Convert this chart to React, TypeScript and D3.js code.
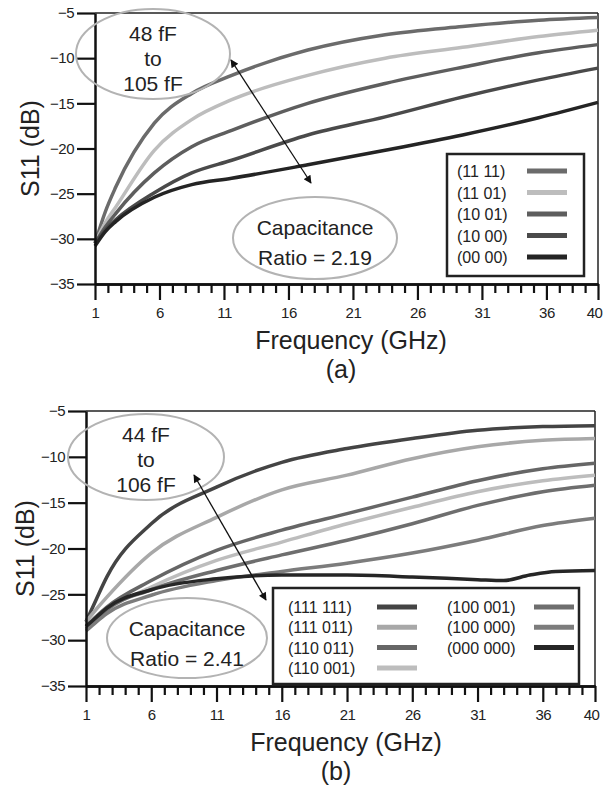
import React, { useEffect, useRef } from 'react'
import * as d3 from 'd3'

// panel (a) data
const freqA = [1, 1.8, 2.6, 5.6, 8.5, 11.6, 17.5, 23.5, 29.5, 35.4, 40]
const a1111 = [-30.5, -27.0, -24.3, -17.2, -13.9, -11.9, -9.1, -7.4, -6.5, -5.8, -5.5]
const a1101 = [-30.5, -28.2, -26.5, -20.2, -16.8, -14.6, -11.9, -10.0, -8.8, -7.6, -6.9]
const a1001 = [-30.5, -28.7, -27.2, -22.7, -19.8, -18.0, -15.0, -12.8, -11.0, -9.4, -8.5]
const a1000 = [-30.5, -29.0, -27.9, -24.9, -22.7, -21.3, -18.5, -16.5, -14.3, -12.4, -11.1]
const a0000 = [-30.8, -29.2, -28.1, -25.4, -24.0, -23.3, -21.8, -20.2, -18.5, -16.6, -14.9]
const labelsA = ['(11 11)', '(11 01)', '(10 01)', '(10 00)', '(00 00)']
const colorsA = ['#6b6b6b', '#bdbdbd', '#5e5e5e', '#4a4a4a', '#242424']

// panel (b) data
const freqB = [1, 1.8, 2.6, 6, 11, 16, 21, 26, 31, 36, 40]
const b111111 = [-28, -25.5, -23.1, -17.3, -13.3, -10.6, -9.1, -8.0, -7.1, -6.7, -6.6]
const b111011 = [-28, -26.6, -25.3, -20.5, -16.6, -13.6, -12.0, -10.2, -8.9, -8.2, -8.0]
const b110011 = [-28.5, -27.4, -26.4, -23.5, -20.2, -18.0, -16.2, -14.4, -12.6, -11.3, -10.7]
const b110001 = [-28.5, -27.6, -26.7, -24.2, -21.3, -19.3, -17.3, -15.5, -13.8, -12.6, -12.0]
const b100001 = [-28.8, -27.8, -26.7, -24.5, -22.4, -20.7, -19.1, -17.3, -15.3, -13.8, -13.1]
const b100000 = [-29, -28, -27.1, -25.1, -23.5, -22.5, -21.6, -20.5, -19.1, -17.5, -16.7]
const freqB0 = [1, 1.8, 2.6, 6, 11, 16, 21, 26, 31, 33, 35, 37, 40]
const b000000 = [-28.5, -27.5, -26.5, -24.5, -23.3, -22.9, -22.9, -23.1, -23.4, -23.5, -22.9, -22.5, -22.4]
const labelsB = ['(111 111)', '(111 011)', '(110 011)', '(110 001)', '(100 001)', '(100 000)', '(000 000)']
const colorsB = ['#444444', '#a8a8a8', '#666666', '#bdbdbd', '#6e6e6e', '#7c7c7c', '#262626']

const yTicks = [-5, -10, -15, -20, -25, -30, -35]
const xMajor = [1, 6, 11, 16, 21, 26, 31, 36, 40]
const xMinor = d3.range(2, 40).filter(v => !xMajor.includes(v))

const FONT = '"Liberation Sans", Arial, sans-serif'

function drawPanel(svg, cfg) {
  const { left, right, top, bottom, series, legend, notes, arrow, title } = cfg
  const x = d3.scaleLinear().domain([1, 40]).range([left, right])
  const y = d3.scaleLinear().domain([-35, -5]).range([bottom, top])
  const g = svg.append('g')

  // frame top / right
  g.append('line').attr('x1', left).attr('x2', right).attr('y1', top).attr('y2', top)
    .attr('stroke', '#222').attr('stroke-width', 1.5)
  g.append('line').attr('x1', right).attr('x2', right).attr('y1', top).attr('y2', bottom)
    .attr('stroke', '#222').attr('stroke-width', 1.5)

  // curves
  const line = d3.line().x(d => x(d[0])).y(d => y(d[1])).curve(d3.curveMonotoneX)
  series.forEach(s => {
    g.append('path')
      .datum(s.f.map((f, i) => [f, s.v[i]]))
      .attr('d', line)
      .attr('fill', 'none')
      .attr('stroke', s.color)
      .attr('stroke-width', 3.5)
  })

  // axes
  const yAxis = g.append('g').attr('transform', `translate(${left},0)`)
    .call(d3.axisLeft(y).tickValues(yTicks).tickSize(18).tickSizeOuter(0).tickPadding(3).tickFormat(d3.format('d')))
  const xAxis = g.append('g').attr('transform', `translate(0,${bottom})`)
    .call(d3.axisBottom(x).tickValues(xMajor).tickSize(16).tickSizeOuter(0).tickPadding(7))
  const xMin = g.append('g').attr('transform', `translate(0,${bottom})`)
    .call(d3.axisBottom(x).tickValues(xMinor).tickSize(9).tickSizeOuter(0).tickFormat(() => ''))
  ;[yAxis, xAxis, xMin].forEach(a => {
    a.selectAll('path').attr('stroke', '#111').attr('stroke-width', 2.5)
    a.selectAll('line').attr('stroke', '#111').attr('stroke-width', 2.2)
    a.selectAll('text').attr('font-family', FONT).attr('font-size', 15).attr('fill', '#222')
      .attr('letter-spacing', -0.5)
  })
  // last label sits at the right edge, as in the original
  xAxis.selectAll('text').filter(d => d === 40).attr('dx', -4)

  // axis titles
  g.append('text')
    .attr('transform', `translate(${cfg.yTitleX},${(top + bottom) / 2}) rotate(-90)`)
    .attr('text-anchor', 'middle').attr('font-family', FONT).attr('font-size', 25).attr('fill', '#222')
    .text('S11 (dB)')
  g.append('text').attr('x', cfg.xTitleX).attr('y', bottom + 65)
    .attr('text-anchor', 'middle').attr('font-family', FONT).attr('font-size', 25).attr('fill', '#222')
    .text('Frequency (GHz)')
  g.append('text').attr('x', cfg.subX).attr('y', bottom + 94)
    .attr('text-anchor', 'middle').attr('font-family', FONT).attr('font-size', 25).attr('fill', '#222')
    .text(title)

  // ellipses with notes
  notes.forEach(n => {
    g.append('ellipse').attr('cx', n.cx).attr('cy', n.cy).attr('rx', n.rx).attr('ry', n.ry)
      .attr('fill', 'none').attr('stroke', '#b3b3b3').attr('stroke-width', 2)
    n.lines.forEach((t, i) => {
      g.append('text').attr('x', n.cx).attr('y', n.y0 + i * n.dy)
        .attr('text-anchor', 'middle').attr('font-family', FONT).attr('font-size', 21).attr('fill', '#222')
        .text(t)
    })
  })

  // double arrow
  g.append('line').attr('x1', arrow[0]).attr('y1', arrow[1]).attr('x2', arrow[2]).attr('y2', arrow[3])
    .attr('stroke', '#111').attr('stroke-width', 1.3)
    .attr('marker-start', 'url(#arrowS)').attr('marker-end', 'url(#arrowE)')

  // legend
  g.append('rect').attr('x', legend.x).attr('y', legend.y).attr('width', legend.w).attr('height', legend.h)
    .attr('fill', '#fff').attr('stroke', '#222').attr('stroke-width', 2.5)
  legend.items.forEach(it => {
    g.append('text').attr('x', it.tx).attr('y', it.y + 6)
      .attr('font-family', FONT).attr('font-size', 16).attr('fill', '#222').text(it.label)
    g.append('line').attr('x1', it.sx).attr('x2', it.sx + 40).attr('y1', it.y).attr('y2', it.y)
      .attr('stroke', it.color).attr('stroke-width', 5)
  })
}

export default function App() {
  const ref = useRef(null)

  useEffect(() => {
    const svg = d3.select(ref.current)
    svg.selectAll('*').remove()
    const defs = svg.append('defs')
    ;[['arrowE', 'auto'], ['arrowS', 'auto-start-reverse']].forEach(([id, orient]) => {
      defs.append('marker').attr('id', id).attr('viewBox', '0 0 10 10').attr('refX', 9).attr('refY', 5)
        .attr('markerWidth', 10).attr('markerHeight', 8).attr('markerUnits', 'userSpaceOnUse')
        .attr('orient', orient)
        .append('path').attr('d', 'M0,0 L10,5 L0,10 Z').attr('fill', '#111')
    })

    const seriesA = [a1111, a1101, a1001, a1000, a0000].map((v, i) => ({ f: freqA, v, color: colorsA[i] }))
    drawPanel(svg, {
      left: 95, right: 598, top: 13, bottom: 284,
      yTitleX: 39, xTitleX: 351, subX: 341, title: '(a)',
      series: seriesA,
      notes: [
        { cx: 153, cy: 54, rx: 77, ry: 45, y0: 41, dy: 25, lines: ['48 fF', 'to', '105 fF'] },
        { cx: 315, cy: 238, rx: 82, ry: 41, y0: 235, dy: 30, lines: ['Capacitance', 'Ratio = 2.19'] },
      ],
      arrow: [231, 60, 311, 183],
      legend: {
        x: 447, y: 154, w: 137, h: 122,
        items: labelsA.map((label, i) => ({ label, color: colorsA[i], tx: 457, sx: 527, y: 171 + i * 21.5 })),
      },
    })

    const seriesB = [b111111, b111011, b110011, b110001, b100001, b100000]
      .map((v, i) => ({ f: freqB, v, color: colorsB[i] }))
    seriesB.push({ f: freqB0, v: b000000, color: colorsB[6] })
    drawPanel(svg, {
      left: 86, right: 595, top: 411, bottom: 686,
      yTitleX: 34, xTitleX: 346, subX: 336, title: '(b)',
      series: seriesB,
      notes: [
        { cx: 146, cy: 457, rx: 78, ry: 43, y0: 442, dy: 25, lines: ['44 fF', 'to', '106 fF'] },
        { cx: 187, cy: 638, rx: 80, ry: 40, y0: 636, dy: 30, lines: ['Capacitance', 'Ratio = 2.41'] },
      ],
      arrow: [194, 475, 266, 600],
      legend: {
        x: 273, y: 588, w: 306, h: 96,
        items: labelsB.map((label, i) => ({
          label, color: colorsB[i],
          tx: i < 4 ? 288 : 447, sx: i < 4 ? 377 : 534,
          y: 607 + (i < 4 ? i : i - 4) * 20.3,
        })),
      },
    })
  }, [])

  return (
    <svg ref={ref} width={603} height={790}
      style={{ position: 'absolute', left: 0, top: 0, background: '#fff' }} />
  )
}
